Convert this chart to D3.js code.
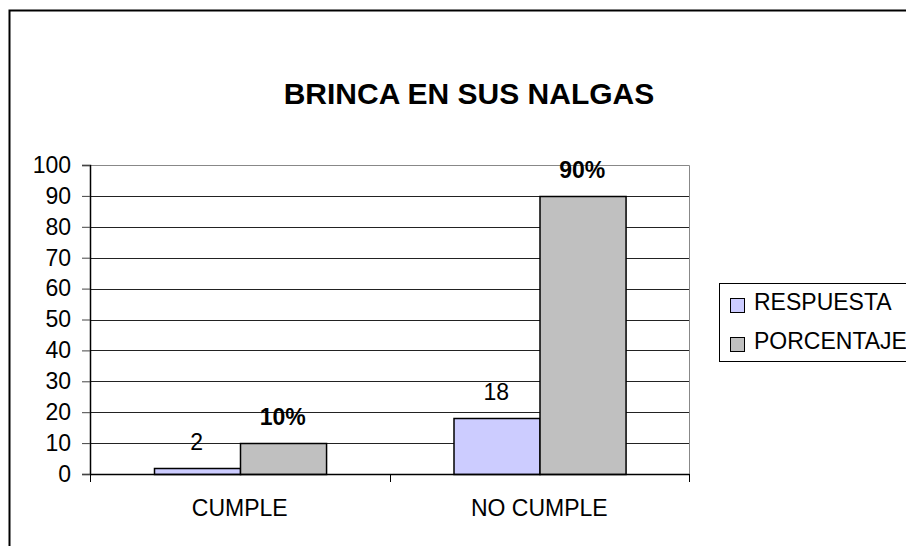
<!DOCTYPE html>
<html>
<head>
<meta charset="utf-8">
<script src="https://cdn.jsdelivr.net/npm/d3@7"></script>
<style>
  body { margin: 0; background: #fff; }
  svg { display: block; font-family: "Liberation Sans", Arial, sans-serif; }
</style>
</head>
<body>
<svg id="chart" width="906" height="546"></svg>
<script>
// data
const categories = ['CUMPLE', 'NO CUMPLE'];
const series = ['RESPUESTA', 'PORCENTAJE'];
const respuesta = [2, 18];
const porcentaje = [10, 90];
const yTicks = [0, 10, 20, 30, 40, 50, 60, 70, 80, 90, 100];
const colors = ['#ccccff', '#c0c0c0'];

const svg = d3.select('#chart');

// outer chart frame (right and bottom edges fall outside the picture)
svg.append('rect')
    .attr('x', 9.5).attr('y', 10.5)
    .attr('width', 1000).attr('height', 1000)
    .attr('fill', 'none')
    .attr('stroke', '#000')
    .attr('stroke-width', 2);

const plot = { left: 90, right: 689, top: 165, bottom: 474 };

const y = d3.scaleLinear().domain([0, 100]).range([plot.bottom, plot.top]);
const x0 = d3.scaleBand().domain(categories).range([plot.left, plot.right]);
const x1 = d3.scaleBand().domain(series).range([0, x0.bandwidth()]).paddingOuter(0.74);

// gridlines
svg.append('g')
    .selectAll('line')
    .data(yTicks.filter(d => d > 0 && d < 100))
    .join('line')
    .attr('x1', plot.left).attr('x2', plot.right)
    .attr('y1', d => Math.round(y(d)) + 0.5).attr('y2', d => Math.round(y(d)) + 0.5)
    .attr('stroke', '#222');

// plot border top/right
svg.append('path')
    .attr('d', 'M' + plot.left + ',' + (plot.top + 0.5) + 'H' + (plot.right + 0.5) + 'V' + plot.bottom)
    .attr('fill', 'none')
    .attr('stroke', '#888');

// bars
const rows = categories.map((c, i) => ({ cat: c, vals: [respuesta[i], porcentaje[i]] }));
const groups = svg.append('g').selectAll('g')
    .data(rows)
    .join('g')
    .attr('transform', d => 'translate(' + x0(d.cat) + ',0)');

groups.selectAll('rect')
    .data(d => d.vals.map((v, j) => ({ s: series[j], v: v, j: j })))
    .join('rect')
    .attr('x', d => Math.round(x1(d.s)) + 0.5)
    .attr('y', d => Math.round(y(d.v)) + 0.5)
    .attr('width', x1.bandwidth())
    .attr('height', d => plot.bottom - Math.round(y(d.v)))
    .attr('fill', d => colors[d.j])
    .attr('stroke', '#000')
    .attr('stroke-width', 1.5);

groups.selectAll('text')
    .data(d => d.vals.map((v, j) => ({ s: series[j], v: v, j: j })))
    .join('text')
    .attr('x', d => x1(d.s) + x1.bandwidth() / 2)
    .attr('y', d => y(d.v) - 18)
    .attr('text-anchor', 'middle')
    .attr('font-size', 23)
    .attr('font-weight', d => d.j === 1 ? 'bold' : 'normal')
    .text(d => d.j === 1 ? d.v + '%' : d.v);

// y axis
const yAxis = svg.append('g')
    .attr('transform', 'translate(' + plot.left + ',0)')
    .call(d3.axisLeft(y).tickValues(yTicks).tickSize(8).tickPadding(11));
yAxis.select('.domain').attr('stroke', '#000').attr('stroke-width', 1.5);
yAxis.selectAll('.tick line').attr('stroke', '#444');
yAxis.selectAll('text').attr('font-size', 23).attr('font-family', null).attr('fill', '#000');

// x axis
const xAxis = svg.append('g')
    .attr('transform', 'translate(0,' + plot.bottom + ')')
    .call(d3.axisBottom(x0).tickSize(0).tickPadding(26));
xAxis.select('.domain').attr('stroke', '#000').attr('stroke-width', 1.5);
xAxis.selectAll('text').attr('font-size', 23).attr('font-family', null).attr('fill', '#000');

// category separator ticks
svg.append('g').selectAll('line')
    .data([0, 1, 2])
    .join('line')
    .attr('x1', i => Math.round(plot.left + i * x0.step()) + 0.5)
    .attr('x2', i => Math.round(plot.left + i * x0.step()) + 0.5)
    .attr('y1', plot.bottom).attr('y2', plot.bottom + 8)
    .attr('stroke', '#000');

// title
svg.append('text')
    .attr('x', 469).attr('y', 104)
    .attr('text-anchor', 'middle')
    .attr('font-size', 30)
    .attr('font-weight', 'bold')
    .text('BRINCA EN SUS NALGAS');

// legend
const legend = svg.append('g');
legend.append('rect')
    .attr('x', 719.5).attr('y', 283.5)
    .attr('width', 300).attr('height', 78)
    .attr('fill', '#fff')
    .attr('stroke', '#000');

const items = legend.selectAll('g.item')
    .data(series)
    .join('g')
    .attr('class', 'item')
    .attr('transform', (d, i) => 'translate(730,' + (298 + i * 39) + ')');
items.append('rect')
    .attr('x', 0.5).attr('y', 0.5)
    .attr('width', 14).attr('height', 14)
    .attr('fill', (d, i) => colors[i])
    .attr('stroke', '#000');
items.append('text')
    .attr('x', 24).attr('y', 12)
    .attr('font-size', 23)
    .text(d => d);
</script>
</body>
</html>
